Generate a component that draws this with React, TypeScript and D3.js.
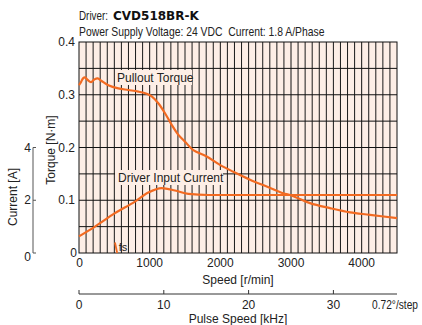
import React from "react";
import * as d3 from "d3";

const pulloutRpm = [0, 28, 57, 85, 123, 170, 217, 264, 320, 415, 556, 698, 839, 958, 1029, 1122, 1217, 1312, 1407, 1500, 1617, 1807, 1995, 2184, 2420, 2656, 2891, 2986, 3269, 3552, 3835, 4118, 4500];
const pulloutTorque = [0.318, 0.324, 0.331, 0.333, 0.328, 0.324, 0.329, 0.331, 0.326, 0.318, 0.312, 0.309, 0.306, 0.302, 0.297, 0.284, 0.265, 0.243, 0.224, 0.211, 0.195, 0.183, 0.167, 0.154, 0.139, 0.126, 0.113, 0.110, 0.0945, 0.085, 0.077, 0.0724, 0.066];

const currentRpm = [0, 226, 509, 792, 981, 1170, 1358, 1547, 1830, 4500];
const currentA = [0.63, 1.0, 1.51, 1.95, 2.29, 2.46, 2.37, 2.24, 2.2, 2.2];

const speedTicks = [0, 1000, 2000, 3000, 4000];
const torqueTicks = [0, 0.1, 0.2, 0.3, 0.4];
const currentTicks = [0, 2, 4];
const pulseTicks = [0, 10, 20, 30];
const fsRpm = 540;
const stepAngle = 0.72;

const ORANGE = "#f26a21";
const BG = "#fdeee6";
const FONT = "'Liberation Sans', Arial, sans-serif";
const TXT = "#222";

export default function App() {
  const L = 79, R = 397, T = 42, B = 253;
  const x = d3.scaleLinear().domain([0, 4500]).range([L, R]);
  const y = d3.scaleLinear().domain([0, 0.4]).range([B, T]);
  const yc = d3.scaleLinear().domain([0, 4]).range([y(0), y(0.2)]);
  const rpmPerKHz = (1000 / (360 / stepAngle)) * 60;
  const xp = d3.scaleLinear().domain([0, 4500 / rpmPerKHz]).range([L, R]);

  const minorV = d3.range(100, 4500, 100).filter((v) => v % 1000 !== 0);
  const majorV = d3.range(1000, 4500, 1000);
  const hLines = d3.range(0.05, 0.4, 0.05);

  const torqueLine = d3
    .line<number>()
    .x((_, i) => x(pulloutRpm[i]))
    .y((d) => y(d))
    .curve(d3.curveCatmullRom.alpha(0.5));
  const currentLine = d3
    .line<number>()
    .x((_, i) => x(currentRpm[i]))
    .y((d) => yc(d))
    .curve(d3.curveMonotoneX);

  const pulseY = 294;
  const cx = 33;

  return (
    <svg width={422} height={325} style={{ position: "absolute", left: 0, top: 0 }} fontFamily={FONT}>
      <rect x={0} y={0} width={422} height={325} fill="#fff" />
      <text transform={`translate(${L},20) scale(0.82,1)`} fontSize={12} fill={TXT}>
        Driver:
      </text>
      <text x={113} y={20} fontSize={12} fill="#111" fontFamily="'DejaVu Sans', sans-serif" fontWeight="bold">
        CVD518BR-K
      </text>
      <text transform={`translate(${L},35.5) scale(0.865,1)`} fontSize={12} fill={TXT}>
        Power Supply Voltage: 24 VDC{"\u00a0\u00a0"}Current: 1.8 A/Phase
      </text>

      <rect x={L} y={T} width={R - L} height={B - T} fill={BG} />
      {minorV.map((v) => (
        <line key={"mv" + v} x1={x(v)} x2={x(v)} y1={T} y2={B} stroke="#1a1a1a" strokeWidth={1} />
      ))}
      {hLines.map((v) => (
        <line key={"h" + v} x1={L} x2={R} y1={y(v)} y2={y(v)} stroke="#111" strokeWidth={1} />
      ))}
      {majorV.map((v) => (
        <line key={"Mv" + v} x1={x(v)} x2={x(v)} y1={T} y2={B} stroke="#111" strokeWidth={1} />
      ))}
      <rect x={L} y={T} width={R - L} height={B - T} fill="none" stroke="#111" strokeWidth={1} />

      <rect x={115} y={70} width={77} height={15} fill={BG} />
      <text x={117} y={82} fontSize={12} fill={TXT}>Pullout Torque</text>
      <rect x={115} y={170} width={108} height={15} fill={BG} />
      <text x={118} y={182} fontSize={12} fill={TXT}>Driver Input Current</text>

      <path d={torqueLine(pulloutTorque) || ""} fill="none" stroke={ORANGE} strokeWidth={2.2} />
      <path d={currentLine(currentA) || ""} fill="none" stroke={ORANGE} strokeWidth={2.2} />

      <line x1={x(fsRpm) - 2.2} y1={y(0.02)} x2={x(fsRpm)} y2={y(0)} stroke={ORANGE} strokeWidth={1.8} />
      <text x={x(fsRpm) + 1.5} y={251} fontSize={11} fill={TXT}>fs</text>

      {torqueTicks.map((t) => (
        <text key={"tt" + t} x={t === 0 ? L - 2 : L - 4} y={y(t) + 4} fontSize={12} textAnchor="end" fill={TXT}>
          {t === 0 ? "0" : t.toFixed(1)}
        </text>
      ))}
      <text transform={`translate(55,${150}) rotate(-90)`} fontSize={12} textAnchor="middle" fill={TXT}>
        Torque [N·m]
      </text>

      <line x1={cx} x2={cx} y1={yc(4)} y2={yc(0)} stroke="#555" strokeWidth={1} />
      {currentTicks.map((t) => (
        <g key={"ct" + t}>
          <line x1={cx} x2={cx + 3} y1={yc(t)} y2={yc(t)} stroke="#555" strokeWidth={1} />
          <text x={cx - 2} y={yc(t) + (t === 0 ? 8 : 4)} fontSize={12} textAnchor="end" fill={TXT}>{t}</text>
        </g>
      ))}
      <text transform={`translate(17,${197}) rotate(-90)`} fontSize={12} textAnchor="middle" fill={TXT}>
        Current [A]
      </text>

      {speedTicks.map((t) => (
        <text key={"st" + t} x={t === 0 ? x(t) + 0.5 : x(t)} y={266.5} fontSize={12} textAnchor="middle" fill={TXT}>{t}</text>
      ))}
      <text x={(L + R) / 2} y={283.5} fontSize={12} textAnchor="middle" fill={TXT}>Speed [r/min]</text>

      <line x1={L} x2={R} y1={pulseY} y2={pulseY} stroke="#333" strokeWidth={1} />
      {pulseTicks.map((t) => (
        <g key={"pt" + t}>
          <line x1={xp(t)} x2={xp(t)} y1={pulseY} y2={pulseY - 4} stroke="#333" strokeWidth={1} />
          <text x={xp(t)} y={309} fontSize={12} textAnchor="middle" fill={TXT}>{t}</text>
        </g>
      ))}
      <text transform="translate(372,309) scale(0.85,1)" fontSize={12} fill={TXT}>0.72°/step</text>
      <text x={(L + R) / 2} y={322.5} fontSize={12} textAnchor="middle" fill={TXT}>Pulse Speed [kHz]</text>
    </svg>
  );
}
